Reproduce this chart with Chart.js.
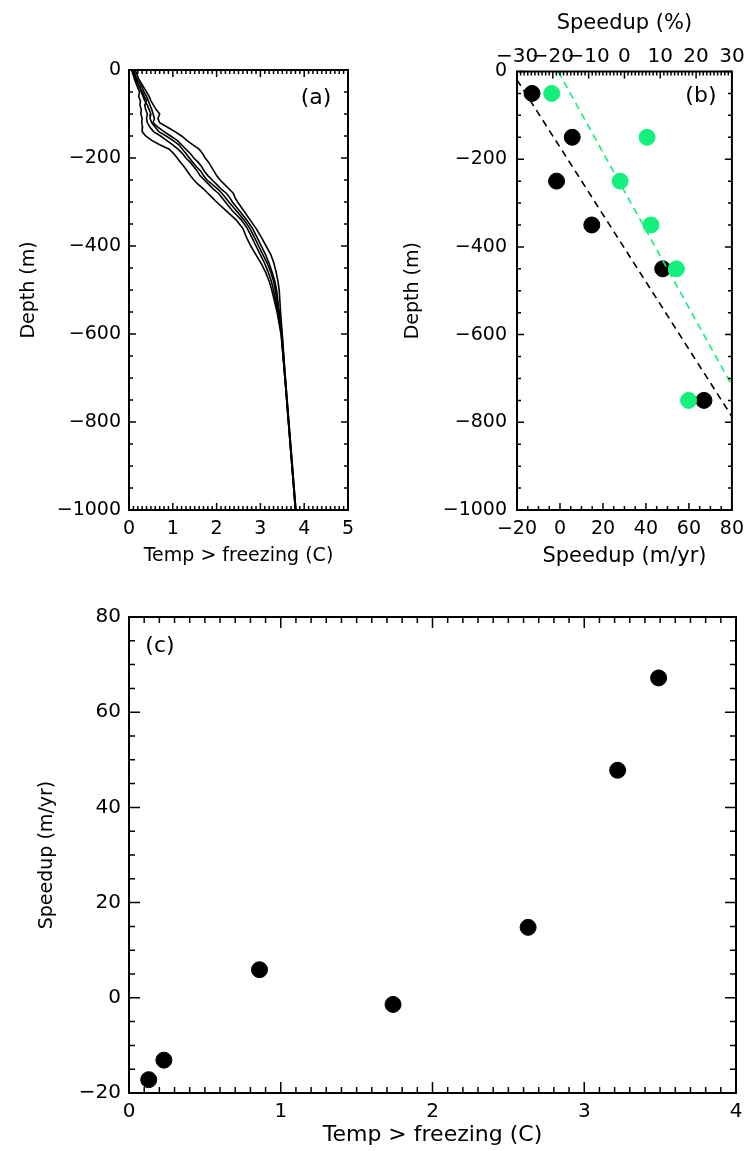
<!DOCTYPE html>
<html>
<head>
<meta charset="utf-8">
<script src="https://cdn.jsdelivr.net/npm/chart.js@4"></script>
<style>
  body { margin: 0; background: #fff; overflow: hidden; }
  canvas { position: absolute; }
</style>
</head>
<body>
<canvas id="profiles" width="372" height="580" style="left:0;top:0"></canvas>
<canvas id="depthSpeed" width="372" height="580" style="left:380px;top:0"></canvas>
<canvas id="tempSpeed" width="752" height="571" style="left:0;top:580px"></canvas>
<script>
// (a) temperature profiles, depth in m, temp above freezing in C
var profileDepth = [0, -10, -20, -30, -40, -50, -60, -70, -80, -90, -100, -110, -120, -130, -140, -150,
  -160, -170, -180, -190, -200, -210, -220, -230, -240, -250, -260, -270, -280, -290, -300,
  -320, -340, -360, -380, -400, -420, -440, -460, -480, -500, -550, -600, -700, -800, -900, -1000];
var profile1 = [0.08, 0.10, 0.12, 0.16, 0.20, 0.24, 0.22, 0.26, 0.25, 0.28, 0.27, 0.30, 0.29, 0.31, 0.30, 0.38,
  0.52, 0.70, 0.92, 1.02, 1.10, 1.18, 1.26, 1.33, 1.40, 1.48, 1.58, 1.70, 1.80, 1.90, 2.00,
  2.22, 2.44, 2.60, 2.68, 2.78, 2.90, 3.02, 3.12, 3.20, 3.26, 3.38, 3.47, 3.56, 3.64, 3.72, 3.80];
var profile2 = [0.12, 0.14, 0.16, 0.20, 0.24, 0.30, 0.35, 0.40, 0.36, 0.38, 0.42, 0.40, 0.42, 0.48, 0.56, 0.72,
  0.86, 1.00, 1.12, 1.22, 1.30, 1.40, 1.48, 1.56, 1.62, 1.72, 1.82, 1.92, 2.04, 2.12, 2.20,
  2.36, 2.56, 2.70, 2.80, 2.90, 3.00, 3.10, 3.18, 3.25, 3.30, 3.40, 3.48, 3.56, 3.64, 3.72, 3.80];
var profile3 = [0.10, 0.13, 0.18, 0.24, 0.30, 0.34, 0.40, 0.44, 0.48, 0.52, 0.55, 0.58, 0.55, 0.66, 0.80, 0.95,
  1.10, 1.20, 1.30, 1.40, 1.48, 1.58, 1.66, 1.72, 1.80, 1.90, 2.00, 2.10, 2.22, 2.30, 2.36,
  2.52, 2.68, 2.82, 2.92, 3.02, 3.12, 3.20, 3.27, 3.33, 3.37, 3.43, 3.49, 3.57, 3.65, 3.73, 3.81];
var profile4 = [0.14, 0.18, 0.22, 0.28, 0.34, 0.40, 0.46, 0.50, 0.56, 0.62, 0.70, 0.66, 0.70, 0.88, 1.05, 1.20,
  1.32, 1.46, 1.60, 1.68, 1.74, 1.82, 1.88, 1.94, 2.00, 2.08, 2.18, 2.28, 2.38, 2.42, 2.48,
  2.62, 2.76, 2.90, 3.02, 3.13, 3.24, 3.31, 3.36, 3.40, 3.43, 3.46, 3.50, 3.57, 3.65, 3.73, 3.81];
var profile5 = [0.06, 0.09, 0.14, 0.18, 0.26, 0.28, 0.32, 0.36, 0.42, 0.46, 0.50, 0.48, 0.52, 0.60, 0.68, 0.85,
  1.00, 1.14, 1.22, 1.30, 1.38, 1.46, 1.54, 1.64, 1.70, 1.78, 1.90, 2.02, 2.12, 2.20, 2.28,
  2.45, 2.62, 2.76, 2.86, 2.96, 3.06, 3.16, 3.24, 3.30, 3.34, 3.42, 3.48, 3.56, 3.64, 3.72, 3.80];

// (b) speedup against depth
var sampleDepth = [-50, -150, -250, -350, -450, -750];
var speedupMyr = [-13, 5.7, -1.6, 14.8, 47.8, 67];
var speedupPct = [-20.3, 6.3, -1.2, 7.4, 14.5, 17.9];
var fitMyrX = [-20, 80];
var fitMyrDepth = [-19, -787];
var fitPctX = [-18.5, 30];
var fitPctDepth = [0, -716];

// (c) speedup against temperature
var pointTemp = [0.13, 0.23, 0.86, 1.74, 2.63, 3.22, 3.49];
var pointSpeedup = [-17.2, -13.1, 5.9, -1.4, 14.8, 47.8, 67.2];

var green = "#14f07c";
Chart.defaults.font.family = "'DejaVu Sans', sans-serif";
Chart.defaults.color = "#000";

function pairs(xs, ys) {
  return xs.map((x, i) => ({ x: x, y: ys[i] }));
}

function minus(v) {
  return String(v).replace("-", "\u2212");
}

function axis(o) {
  return {
    type: "linear",
    position: o.position,
    min: o.min,
    max: o.max,
    grid: { display: false, drawTicks: false },
    border: { display: false },
    ticks: {
      stepSize: o.step,
      autoSkip: false,
      maxRotation: 0,
      padding: o.pad,
      font: { size: o.tickSize || 19 },
      callback: minus,
    },
    title: {
      display: true,
      text: o.title,
      font: { size: o.titleSize || 19 },
      padding: o.titlePad,
    },
    afterFit: (scale) => {
      if (scale.isHorizontal()) scale.height = o.size;
      else scale.width = o.size;
    },
  };
}

// IDL style box with inward ticks on every side
const frame = {
  id: "frame",
  afterDraw(chart, args, opts) {
    const { ctx, chartArea: a } = chart;
    ctx.save();
    ctx.strokeStyle = "#000";
    ctx.lineWidth = 1.5;
    opts.axes.forEach((ax) => {
      const scale = chart.scales[ax.id];
      const n = Math.round((scale.max - scale.min) / ax.minor);
      for (let i = 0; i <= n; i++) {
        const v = scale.min + i * ax.minor;
        const isMajor = Math.abs(v / ax.major - Math.round(v / ax.major)) < 1e-6;
        const len = isMajor ? opts.majorLen : opts.minorLen;
        const p = scale.getPixelForValue(v);
        ctx.beginPath();
        ax.sides.forEach((side) => {
          if (side === "bottom") { ctx.moveTo(p, a.bottom); ctx.lineTo(p, a.bottom - len); }
          if (side === "top") { ctx.moveTo(p, a.top); ctx.lineTo(p, a.top + len); }
          if (side === "left") { ctx.moveTo(a.left, p); ctx.lineTo(a.left + len, p); }
          if (side === "right") { ctx.moveTo(a.right, p); ctx.lineTo(a.right - len, p); }
        });
        ctx.stroke();
      }
    });
    ctx.lineWidth = 2;
    ctx.strokeRect(a.left, a.top, a.right - a.left, a.bottom - a.top);
    ctx.restore();
  },
};

const panelLabel = {
  id: "panelLabel",
  afterDraw(chart, args, opts) {
    const { ctx, chartArea: a } = chart;
    ctx.save();
    ctx.font = "22px 'DejaVu Sans', sans-serif";
    ctx.fillStyle = "#000";
    ctx.textAlign = "center";
    ctx.textBaseline = "middle";
    const x = opts.fromRight ? a.right - opts.dx : a.left + opts.dx;
    ctx.fillText(opts.text, x, a.top + opts.dy);
    ctx.restore();
  },
};

new Chart("profiles", {
  type: "scatter",
  data: {
    datasets: [profile1, profile2, profile3, profile4, profile5].map((p) => ({
      data: pairs(p, profileDepth),
      showLine: true,
      borderColor: "#000",
      borderWidth: 1.6,
      pointRadius: 0,
    })),
  },
  options: {
    responsive: false,
    animation: false,
    layout: { padding: { top: 70, right: 24, left: 0, bottom: 0 } },
    scales: {
      x: axis({ position: "bottom", min: 0, max: 5, step: 1, pad: 8, title: "Temp > freezing (C)", titleSize: 19, titlePad: { top: 0, bottom: 13 }, size: 70 }),
      y: axis({ position: "left", min: -1000, max: 0, step: 200, pad: 8, title: "Depth (m)", titlePad: { top: 18, bottom: 0 }, size: 129 }),
    },
    plugins: {
      legend: { display: false },
      tooltip: { enabled: false },
      frame: {
        majorLen: 7, minorLen: 4,
        axes: [
          { id: "x", major: 1, minor: 0.1, sides: ["bottom", "top"] },
          { id: "y", major: 200, minor: 50, sides: ["left", "right"] },
        ],
      },
      panelLabel: { text: "(a)", fromRight: true, dx: 32, dy: 28 },
    },
  },
  plugins: [frame, panelLabel],
});

new Chart("depthSpeed", {
  type: "scatter",
  data: {
    datasets: [
      {
        data: pairs(fitPctX, fitPctDepth),
        xAxisID: "x2",
        showLine: true,
        borderColor: green,
        borderWidth: 1.6,
        borderDash: [7, 5],
        pointRadius: 0,
      },
      {
        data: pairs(fitMyrX, fitMyrDepth),
        showLine: true,
        borderColor: "#000",
        borderWidth: 1.6,
        borderDash: [7, 5],
        pointRadius: 0,
      },
      {
        data: pairs(speedupPct, sampleDepth),
        xAxisID: "x2",
        pointRadius: 8,
        pointBackgroundColor: green,
        pointBorderColor: green,
        pointBorderWidth: 1,
      },
      {
        data: pairs(speedupMyr, sampleDepth),
        pointRadius: 8,
        pointBackgroundColor: "#000",
        pointBorderColor: "#000",
        pointBorderWidth: 1,
      },
    ],
  },
  options: {
    responsive: false,
    animation: false,
    layout: { padding: { top: 0, right: 17, left: 0, bottom: 0 } },
    scales: {
      x: axis({ position: "bottom", min: -20, max: 80, step: 20, pad: 8, title: "Speedup (m/yr)", titleSize: 21, titlePad: { top: 0, bottom: 11 }, size: 70 }),
      x2: axis({ position: "top", min: -30, max: 30, step: 10, pad: 3, tickSize: 20, title: "Speedup (%)", titleSize: 21, titlePad: { top: 11, bottom: 0 }, size: 71.5 }),
      y: axis({ position: "left", min: -1000, max: 0, step: 200, pad: 10, title: "Depth (m)", titlePad: { top: 21.6, bottom: 0 }, size: 137 }),
    },
    plugins: {
      legend: { display: false },
      tooltip: { enabled: false },
      frame: {
        majorLen: 7, minorLen: 4,
        axes: [
          { id: "x", major: 20, minor: 5, sides: ["bottom"] },
          { id: "x2", major: 10, minor: 1, sides: ["top"] },
          { id: "y", major: 200, minor: 50, sides: ["left", "right"] },
        ],
      },
      panelLabel: { text: "(b)", fromRight: true, dx: 31, dy: 25 },
    },
  },
  plugins: [frame, panelLabel],
});

new Chart("tempSpeed", {
  type: "scatter",
  data: {
    datasets: [
      {
        data: pairs(pointTemp, pointSpeedup),
        pointRadius: 8,
        pointBackgroundColor: "#000",
        pointBorderColor: "#000",
        pointBorderWidth: 1,
      },
    ],
  },
  options: {
    responsive: false,
    animation: false,
    layout: { padding: { top: 37, right: 16, left: 0, bottom: 0 } },
    scales: {
      x: axis({ position: "bottom", min: 0, max: 4, step: 1, pad: 7, tickSize: 20, title: "Temp > freezing (C)", titleSize: 22, titlePad: { top: 0, bottom: 2.5 }, size: 58 }),
      y: axis({ position: "left", min: -20, max: 80, step: 20, pad: 8, tickSize: 20, title: "Speedup (m/yr)", titleSize: 19, titlePad: { top: 35.6, bottom: 0 }, size: 129 }),
    },
    plugins: {
      legend: { display: false },
      tooltip: { enabled: false },
      frame: {
        majorLen: 11, minorLen: 6,
        axes: [
          { id: "x", major: 1, minor: 0.1, sides: ["bottom", "top"] },
          { id: "y", major: 20, minor: 5, sides: ["left", "right"] },
        ],
      },
      panelLabel: { text: "(c)", fromRight: false, dx: 31, dy: 29 },
    },
  },
  plugins: [frame, panelLabel],
});
</script>
</body>
</html>
